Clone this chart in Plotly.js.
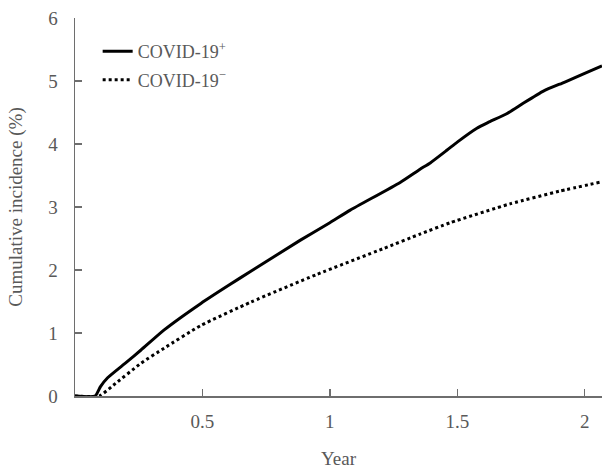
<!DOCTYPE html>
<html>
<head>
<meta charset="utf-8">
<script src="https://cdn.plot.ly/plotly-3.0.1.min.js"></script>
<style>html,body{margin:0;padding:0;background:#fff;}#chart{width:602px;height:471px;}</style>
</head>
<body>
<div id="chart"></div>
<script>
// Data
var posYears = [0, 0.079, 0.1, 0.128, 0.2, 0.259, 0.35, 0.494, 0.6, 0.69, 0.883, 1.0, 1.08, 1.276, 1.354, 1.394, 1.459, 1.5, 1.577, 1.62, 1.694, 1.76, 1.838, 1.92, 2.0, 2.068];
var posIncidence = [0, 0, 0.15, 0.29, 0.53, 0.73, 1.05, 1.47, 1.75, 1.98, 2.47, 2.75, 2.95, 3.39, 3.60, 3.70, 3.90, 4.03, 4.25, 4.34, 4.48, 4.65, 4.84, 4.98, 5.12, 5.24];
var negYears = [0, 0.095, 0.15, 0.259, 0.35, 0.494, 0.69, 0.949, 1.21, 1.354, 1.472, 1.707, 1.9, 2.068];
var negIncidence = [0, 0, 0.17, 0.52, 0.76, 1.12, 1.49, 1.93, 2.34, 2.57, 2.75, 3.05, 3.25, 3.40];
var seriesNames = ['COVID-19<sup>+</sup>', 'COVID-19<sup>\u2212</sup>'];
var xTicks = [0.5, 1, 1.5, 2];
var xTickLabels = ['0.5', '1', '1.5', '2'];
var yTicks = [0, 1, 2, 3, 4, 5, 6];

var textColor = '#595959';
var axisColor = '#6e6e6e';
var fontFam = 'Liberation Serif';

var traces = [
  {x: posYears, y: posIncidence, type: 'scatter', mode: 'lines', name: seriesNames[0],
   legendgroup: 'a', line: {color: '#000', width: 3, shape: 'spline', smoothing: 0.5}},
  {x: negYears, y: negIncidence, type: 'scatter', mode: 'lines', name: seriesNames[1],
   legendgroup: 'b', line: {color: '#000', width: 3, dash: 'dot', shape: 'spline', smoothing: 0.5}}
];

var layout = {
  width: 602, height: 471,
  margin: {l: 75, r: 0, t: 18, b: 75},
  paper_bgcolor: '#fff', plot_bgcolor: '#fff',
  font: {family: fontFam, color: textColor, size: 19},
  showlegend: true,
  legend: {x: 0.043, y: 0.96, xanchor: 'left', yanchor: 'top', bgcolor: 'rgba(0,0,0,0)',
           font: {size: 18, color: textColor, family: fontFam}, tracegroupgap: 2},
  xaxis: {
    range: [0, 2.068], tickvals: xTicks, ticktext: xTickLabels,
    showline: true, linecolor: axisColor, linewidth: 1.5,
    ticks: 'inside', ticklen: 7, tickcolor: axisColor, tickwidth: 1.5,
    showgrid: false, zeroline: false, fixedrange: true,
    tickfont: {size: 19, color: textColor, family: fontFam},
    ticklabelstandoff: 8,
    title: {text: 'Year', font: {size: 19, color: textColor, family: fontFam}, standoff: 20}
  },
  yaxis: {
    range: [0, 6], tickvals: yTicks,
    showline: true, linecolor: axisColor, linewidth: 1.5,
    ticks: 'inside', ticklen: 7, tickcolor: axisColor, tickwidth: 1.5,
    showgrid: false, zeroline: false, fixedrange: true,
    tickfont: {size: 19, color: textColor, family: fontFam},
    ticklabelstandoff: 12,
    title: {text: 'Cumulative incidence (%)', font: {size: 19, color: textColor, family: fontFam}, standoff: 20}
  }
};

Plotly.newPlot('chart', traces, layout, {displayModeBar: false, staticPlot: true});
</script>
</body>
</html>
